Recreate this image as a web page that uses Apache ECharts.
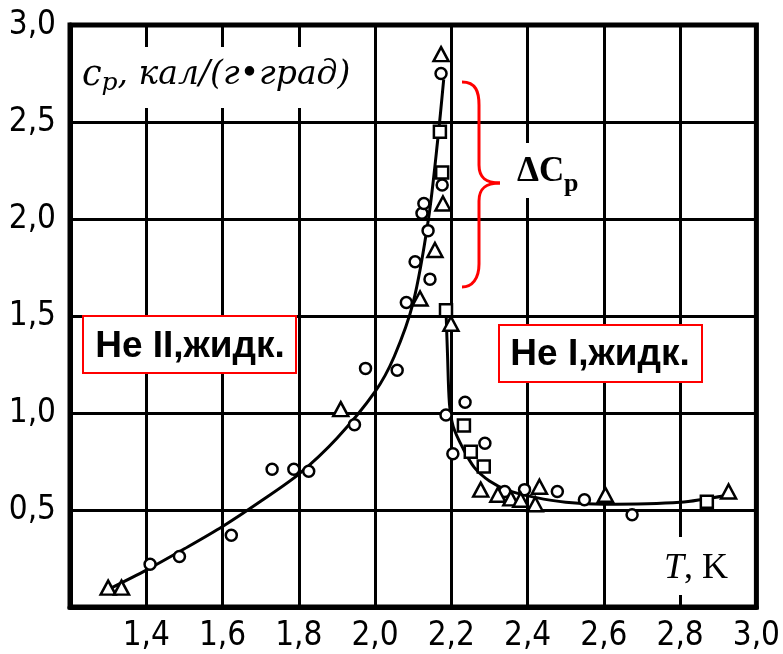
<!DOCTYPE html>
<html><head><meta charset="utf-8">
<script src="https://cdn.jsdelivr.net/npm/echarts@6/dist/echarts.min.js"></script>
<style>html,body{margin:0;padding:0;background:#fff}#c{width:783px;height:654px}</style>
</head><body><div id="c"></div>
<script>
// Data (T in K, cp in cal/(g·deg))
var circles = [[1.41,0.22],[1.487,0.26],[1.623,0.37],[1.73,0.71],[1.787,0.71],[1.826,0.70],[1.946,0.94],[1.975,1.23],[2.058,1.22],[2.082,1.57],[2.105,1.78],[2.144,1.69],[2.139,1.94],[2.123,2.03],[2.128,2.08],[2.176,2.175],[2.173,2.75],[2.236,1.055],[2.186,0.99],[2.288,0.844],[2.204,0.79],[2.34,0.595],[2.392,0.605],[2.478,0.595],[2.549,0.553],[2.674,0.476]];
var triangles = [[1.30,0.10],[1.335,0.10],[1.91,1.02],[2.118,1.59],[2.157,1.84],[2.173,2.85],[2.199,1.46],[2.178,2.08],[2.277,0.605],[2.322,0.579],[2.356,0.56],[2.382,0.553],[2.42,0.53],[2.431,0.62],[2.604,0.579],[2.927,0.595]];
var squares = [[2.170,2.45],[2.176,2.24],[2.186,1.53],[2.233,0.935],[2.251,0.80],[2.285,0.724],[2.87,0.543]];
var curveHeII = [[1.31,0.10],[1.4,0.19],[1.5,0.30],[1.6,0.415],[1.7,0.545],[1.8,0.685],[1.9,0.87],[2.0,1.11],[2.05,1.29],[2.1,1.57],[2.14,2.00],[2.165,2.42],[2.18,2.72]];
var curveHeI = [[2.186,1.53],[2.19,1.3],[2.195,1.05],[2.205,0.93],[2.23,0.82],[2.26,0.72],[2.3,0.65],[2.35,0.60],[2.42,0.565],[2.5,0.54],[2.6,0.53],[2.8,0.54],[2.92,0.575]];
var xTicks = [1.4,1.6,1.8,2.0,2.2,2.4,2.6,2.8,3.0];
var yTicks = [0.5,1.0,1.5,2.0,2.5,3.0];

function fmt(list){
  return function(v){
    for (var i=0;i<list.length;i++){ if (Math.abs(list[i]-v)<1e-6) return list[i].toFixed(1).replace('.',','); }
    return '';
  };
}
var chart = echarts.init(document.getElementById('c'), null, {renderer:'canvas'});
var labelFont = {color:'#000', fontFamily:'"DejaVu Sans Condensed","DejaVu Sans",sans-serif', fontSize:33};
var mk = {color:'#fff', borderColor:'#000', borderWidth:2.5, opacity:1};
var red = {stroke:'#f00', lineWidth:3, fill:'none'};
function bz(x1,y1,c1x,c1y,c2x,c2y,x2,y2){return {type:'bezierCurve', z:11, shape:{x1:x1,y1:y1,cpx1:c1x,cpy1:c1y,cpx2:c2x,cpy2:c2y,x2:x2,y2:y2}, style:red};}
function ln(x1,y1,x2,y2){return {type:'line', z:11, shape:{x1:x1,y1:y1,x2:x2,y2:y2}, style:red};}
chart.setOption({
  animation:false,
  backgroundColor:'#fff',
  grid:{left:70, right:23, top:25, bottom:47, show:true, borderColor:'#000', borderWidth:5, backgroundColor:'transparent'},
  xAxis:{type:'value', min:1.2, max:3.0, interval:0.2,
    axisLine:{show:true, onZero:false, lineStyle:{color:'#000', width:5}},
    axisTick:{show:false},
    splitLine:{show:true, lineStyle:{color:'#000', width:3}},
    axisLabel:Object.assign({margin:13, formatter:fmt(xTicks)}, labelFont)},
  yAxis:{type:'value', min:0, max:3.0, interval:0.5,
    axisLine:{show:true, onZero:false, lineStyle:{color:'#000', width:5}},
    axisTick:{show:false},
    splitLine:{show:true, lineStyle:{color:'#000', width:3}},
    axisLabel:Object.assign({margin:14, formatter:fmt(yTicks)}, labelFont)},
  series:[
    {type:'line', data:curveHeII, smooth:0.3, showSymbol:false, lineStyle:{color:'#000', width:3}, z:3},
    {type:'line', data:curveHeI, smooth:0.3, showSymbol:false, lineStyle:{color:'#000', width:3}, z:3},
    {type:'scatter', data:circles, symbol:'circle', symbolSize:11, itemStyle:mk, z:5},
    {type:'scatter', data:triangles, symbol:'triangle', symbolSize:[15,14], itemStyle:mk, z:5},
    {type:'scatter', data:squares, symbol:'rect', symbolSize:12, itemStyle:mk, z:5}
  ],
  graphic:[
    {type:'rect', z:10, shape:{x:74, y:47, width:288, height:61}, style:{fill:'#fff'}},
    {type:'text', z:11, left:82, top:58, style:{
      text:'{c|c}{p|p}{t|, кал/(г•град)}',
      rich:{
        c:{fontFamily:'"DejaVu Serif",serif', fontStyle:'italic', fontSize:35, fill:'#000'},
        p:{fontFamily:'"DejaVu Serif",serif', fontStyle:'italic', fontSize:25, fill:'#000', padding:[15,0,0,0]},
        t:{fontFamily:'"DejaVu Serif",serif', fontStyle:'italic', fontSize:33, fill:'#000'}
      }}},
    {type:'rect', z:10, shape:{x:513, y:143, width:72, height:55}, style:{fill:'#fff'}},
    {type:'text', z:11, left:517, top:154, style:{text:'ΔC', fontFamily:'"Liberation Serif",serif', fontWeight:'bold', fontSize:35, fill:'#000'}},
    {type:'text', z:11, left:564, top:171, style:{text:'p', fontFamily:'"Liberation Serif",serif', fontWeight:'bold', fontSize:26, fill:'#000'}},
    bz(462,82,476,82,479,92,479,105),
    ln(479,105,479,165),
    bz(479,165,479,177,485,183,500,183),
    bz(500,183,485,183,479,189,479,201),
    ln(479,201,479,264),
    bz(479,264,479,279,472,287,462,287),
    {type:'rect', z:10, shape:{x:660, y:537, width:75, height:58}, style:{fill:'#fff'}},
    {type:'text', z:11, left:664, top:551, style:{
      text:'{i|T}{r|, K}',
      rich:{
        i:{fontFamily:'"Liberation Serif",serif', fontStyle:'italic', fontSize:36, fill:'#000'},
        r:{fontFamily:'"Liberation Serif",serif', fontSize:36, fill:'#000'}
      }}},
    {type:'rect', z:12, shape:{x:83, y:316, width:213, height:57}, style:{fill:'#fff', stroke:'#f00', lineWidth:2}},
    {type:'text', z:13, x:190, y:347, style:{text:'He II,жидк.', fontFamily:'"Liberation Sans",Arial,sans-serif', fontWeight:'bold', fontSize:37, fill:'#000', align:'center', verticalAlign:'middle'}},
    {type:'rect', z:12, shape:{x:499, y:325, width:203, height:57}, style:{fill:'#fff', stroke:'#f00', lineWidth:2}},
    {type:'text', z:13, x:600, y:355, style:{text:'He I,жидк.', fontFamily:'"Liberation Sans",Arial,sans-serif', fontWeight:'bold', fontSize:37, fill:'#000', align:'center', verticalAlign:'middle'}}
  ]
});
</script></body></html>
